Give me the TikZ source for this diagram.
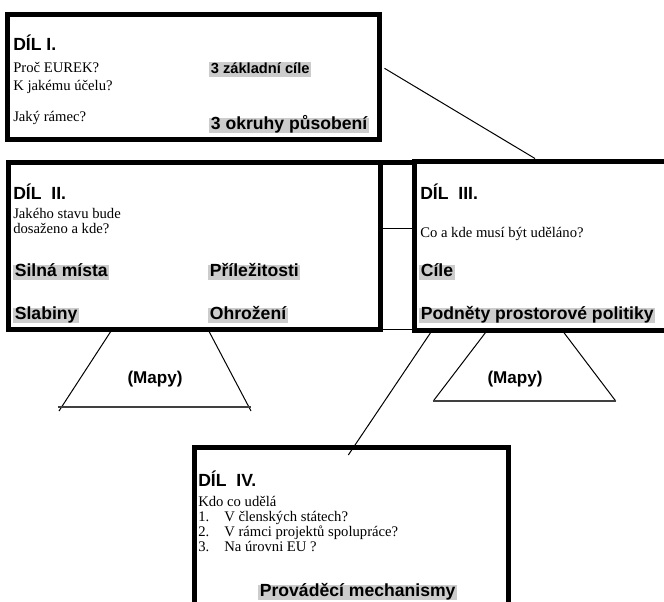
\documentclass[tikz,border=0pt]{standalone}
\usepackage{fontspec}
\setmainfont{Liberation Serif}
\setsansfont{Liberation Sans}
\usetikzlibrary{fit}
\tikzset{
  box/.style={draw, line width=3.75pt, inner sep=0pt, outer sep=0pt},
  thinline/.style={line width=0.75pt},
  bottomline/.style={line width=1.1pt, draw=black!75},
  txt/.style={anchor=base west, inner sep=0pt, font=\fontsize{11}{13}\selectfont},
  hd/.style={anchor=base west, inner sep=0pt, font=\sffamily\bfseries\fontsize{13.2}{15}\selectfont},
  hl/.style={anchor=base west, fill=black!20, inner xsep=1.2pt, inner ysep=0.5pt,
    text height=0.78em, text depth=0.22em, font=\sffamily\bfseries\fontsize{13.2}{15}\selectfont},
  hls/.style={hl, font=\sffamily\bfseries\fontsize{11}{13}\selectfont},
  mapy/.style={anchor=base, inner sep=0pt, font=\sffamily\bfseries\fontsize{12.8}{15}\selectfont},
}
\begin{document}
\begin{tikzpicture}[x=0.75pt, y=-0.75pt]
\useasboundingbox (0,0) rectangle (664,601);
\clip (0,0) rectangle (664,601);

% boxes
\node[box, fit={(7.5,14.5) (379.5,139.5)}] (b1) {};
\node[box, fit={(8.5,162.5) (380.5,329.5)}] (b2) {};
\node[box, fit={(414.5,161.5) (700,330.5)}] (b3) {};
\node[box, fit={(194.5,447.5) (508.5,640)}] (b4) {};

% gap between box II and III
\coordinate (g1) at (380.5,162);
\coordinate (g2) at (414.5,162);
\coordinate (g3) at (380.5,228);
\coordinate (g4) at (414.5,228);
\coordinate (g5) at (380.5,329);
\coordinate (g6) at (414.5,329);
\draw[line width=3.75pt] (g1) -- (g2);
\draw[thinline] (g3) -- (g4);
\draw[thinline] (g5) -- (g6);

% Box I
\node[hd] (t1a) at (13,50) {DÍL I.};
\node[txt] (t1b) at (13,72) {Proč EUREK?};
\node[txt] (t1c) at (13,90) {K jakému účelu?};
\node[txt] (t1d) at (13,121) {Jaký rámec?};
\node[hls] (t1e) at (209,73) {3 základní cíle};
\node[hl] (t1f) at (209,129) {3 okruhy působení };

% Box II
\node[hd] (t2a) at (13,199) {DÍL\ \ II.};
\node[txt] (t2b) at (13,218) {Jakého stavu bude};
\node[txt] (t2c) at (13,233) {dosaženo a kde?};
\node[hl] (t2d) at (13,276) {Silná místa };
\node[hl] (t2e) at (208,276) {Příležitosti };
\node[hl] (t2f) at (13,319) {Slabiny};
\node[hl] (t2g) at (208,319) {Ohrožení };

% Box III
\node[hd] (t3a) at (420,199) {DÍL\ \ III.};
\node[txt] (t3b) at (420,237) {Co a kde musí být uděláno?};
\node[hl] (t3c) at (419,276) {Cíle};
\node[hl] (t3d) at (419,319) {Podněty prostorové politiky };

% Box IV
\node[hd] (t4a) at (198,486) {DÍL\ \ IV.};
\node[txt] (t4b) at (198,506) {Kdo co udělá};
\node[txt] (t4c) at (198,521) {1.};
\node[txt] (t4d) at (224,521) {V členských státech?};
\node[txt] (t4e) at (198,536) {2.};
\node[txt] (t4f) at (224,536) {V rámci projektů spolupráce?};
\node[txt] (t4g) at (198,551) {3.};
\node[txt] (t4h) at (224,551) {Na úrovni EU ?};
\node[hl] (t4i) at (258,596) {Prováděcí mechanismy};

% connector I -> III
\coordinate (c1a) at (384.5,68.3);
\coordinate (c1b) at (535,158.5);
\draw[thinline] (c1a) -- (c1b);

% left trapezoid
\coordinate (l1) at (111.7,330);
\coordinate (l2) at (59,411);
\coordinate (l3) at (208.3,330);
\coordinate (l4) at (251,411);
\coordinate (l5) at (58,407);
\coordinate (l6) at (251,407);
\draw[thinline] (l1) -- (l2);
\draw[thinline] (l3) -- (l4);
\draw[bottomline] (l5) -- (l6);
\node[mapy] (m1) at (155,383) {(Mapy)};

% long line III -> IV
\coordinate (d1) at (431.7,331);
\coordinate (d2) at (348.3,455);
\draw[thinline] (d1) -- (d2);

% right trapezoid
\coordinate (r1) at (486.7,331);
\coordinate (r2) at (433.3,401);
\coordinate (r3) at (562.7,331);
\coordinate (r4) at (615.7,401);
\draw[thinline] (r1) -- (r2);
\draw[thinline] (r3) -- (r4);
\draw[bottomline] (r2) -- (r4);
\node[mapy] (m2) at (515,383) {(Mapy)};
\end{tikzpicture}
\end{document}
